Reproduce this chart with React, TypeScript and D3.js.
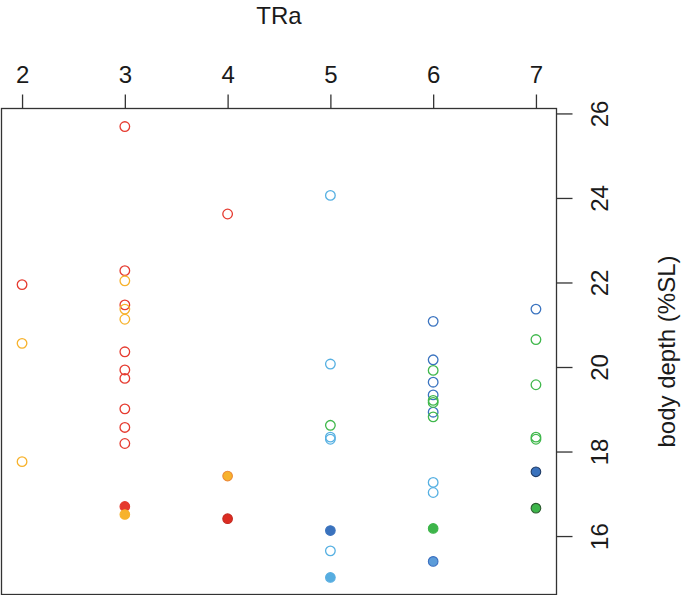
import React, { useRef, useEffect } from "react";
import * as d3 from "d3";

// TRa values (x) and body depth (%SL) values (y), grouped by colour
const redTRa = [2, 3, 3, 3, 3, 3, 3, 3, 3, 3, 4];
const redDepth = [21.95, 25.69, 22.28, 21.47, 20.36, 19.93, 19.73, 19.01, 18.57, 18.19, 23.62];

const yellowTRa = [2, 2, 3, 3, 3];
const yellowDepth = [20.56, 17.76, 22.04, 21.37, 21.13];

const skyTRa = [5, 5, 5, 5, 5, 6, 6];
const skyDepth = [24.06, 20.07, 18.34, 18.29, 15.65, 17.27, 17.03];

const blueTRa = [6, 6, 6, 6, 6, 7];
const blueDepth = [21.08, 20.17, 19.64, 19.34, 18.93, 21.37];

const greenTRa = [5, 6, 6, 6, 6, 7, 7, 7, 7];
const greenDepth = [18.62, 19.92, 19.21, 19.16, 18.82, 20.65, 19.58, 18.34, 18.29];

// filled points
const filledTRa = [3, 3, 4, 4, 5, 5, 6, 6, 7, 7];
const filledDepth = [16.70, 16.51, 17.42, 16.41, 16.13, 15.02, 16.18, 15.40, 17.52, 16.66];
const filledFill = ["#e53a2e", "#f7b22c", "#f7b22c", "#dc2c22", "#3a72bd", "#57ade0", "#3db54a", "#5c9cd9", "#3a72bd", "#3db54a"];
const filledStroke = ["#e53a2e", "#f7b22c", "#ec8a35", "#c4281f", "#3a72bd", "#57ade0", "#3db54a", "#3a6fc0", "#1f3b66", "#2c5a2f"];

const xTicks = [2, 3, 4, 5, 6, 7];
const yTicks = [16, 18, 20, 22, 24, 26];

const App = () => {
  const ref = useRef(null);

  useEffect(() => {
    const width = 685;
    const height = 595;
    const left = 1.5, right = 556.5, top = 108.5, bottom = 594.5;

    const svg = d3.select(ref.current);
    svg.selectAll("*").remove();

    const allDepth = [...redDepth, ...yellowDepth, ...skyDepth, ...blueDepth, ...greenDepth, ...filledDepth];
    const [ymin, ymax] = d3.extent(allDepth);
    const pad = (ymax - ymin) * 0.04;

    const x = d3.scaleLinear().domain([1.8, 7.2]).range([left, right]);
    const y = d3.scaleLinear().domain([ymin - pad, ymax + pad]).range([bottom + 1, top]);

    const font = "'Liberation Sans', Arial, Helvetica, sans-serif";

    // box
    svg.append("rect")
      .attr("x", left).attr("y", top)
      .attr("width", right - left).attr("height", bottom - top)
      .attr("fill", "none").attr("stroke", "#333").attr("stroke-width", 1.3);

    // top axis
    const xg = svg.append("g").attr("transform", `translate(0,${top})`);
    xg.call(d3.axisTop(x).tickValues(xTicks).tickSize(14).tickPadding(12).tickFormat(d3.format("d")));
    xg.select(".domain").remove();
    xg.selectAll("line").attr("stroke", "#333").attr("stroke-width", 1.3);
    xg.selectAll("text").attr("font-family", font).attr("font-size", 24).attr("fill", "#1a1a1a");

    // right axis
    const yg = svg.append("g").attr("transform", `translate(${right},0)`);
    yg.call(d3.axisRight(y).tickValues(yTicks).tickSize(16).tickFormat(d3.format("d")));
    yg.select(".domain").remove();
    yg.selectAll("line").attr("stroke", "#333").attr("stroke-width", 1.3);
    yg.selectAll("text").remove();
    yg.selectAll(".tick")
      .append("text")
      .attr("transform", "translate(51,0) rotate(-90)")
      .attr("text-anchor", "middle")
      .attr("font-family", font).attr("font-size", 24).attr("fill", "#1a1a1a")
      .text((d) => d);

    // axis titles
    svg.append("text")
      .attr("x", (left + right) / 2).attr("y", 24)
      .attr("text-anchor", "middle")
      .attr("font-family", font).attr("font-size", 24).attr("fill", "#1a1a1a")
      .text("TRa");

    svg.append("text")
      .attr("transform", `translate(675,${(top + bottom) / 2}) rotate(-90)`)
      .attr("text-anchor", "middle")
      .attr("font-family", font).attr("font-size", 24).attr("fill", "#1a1a1a")
      .text("body depth (%SL)");

    const openGroups = [
      { xs: redTRa, ys: redDepth, color: "#e63b30" },
      { xs: yellowTRa, ys: yellowDepth, color: "#f7b22c" },
      { xs: skyTRa, ys: skyDepth, color: "#56b0e2" },
      { xs: blueTRa, ys: blueDepth, color: "#3b74c0" },
      { xs: greenTRa, ys: greenDepth, color: "#40b84c" },
    ];

    openGroups.forEach((g) => {
      svg.append("g")
        .selectAll("circle")
        .data(g.xs.map((v, i) => [v, g.ys[i]]))
        .enter()
        .append("circle")
        .attr("cx", (d) => x(d[0]))
        .attr("cy", (d) => y(d[1]))
        .attr("r", 4.8)
        .attr("fill", "none")
        .attr("stroke", g.color)
        .attr("stroke-width", 1.3);
    });

    svg.append("g")
      .selectAll("circle")
      .data(filledTRa.map((v, i) => [v, filledDepth[i], i]))
      .enter()
      .append("circle")
      .attr("cx", (d) => x(d[0]))
      .attr("cy", (d) => y(d[1]))
      .attr("r", 4.8)
      .attr("fill", (d) => filledFill[d[2]])
      .attr("stroke", (d) => filledStroke[d[2]])
      .attr("stroke-width", 1.1);

    svg.attr("width", width).attr("height", height);
  }, []);

  return (
    <svg
      ref={ref}
      width={685}
      height={595}
      style={{ position: "absolute", left: 0, top: 0, background: "#fff" }}
    />
  );
};

export default App;
